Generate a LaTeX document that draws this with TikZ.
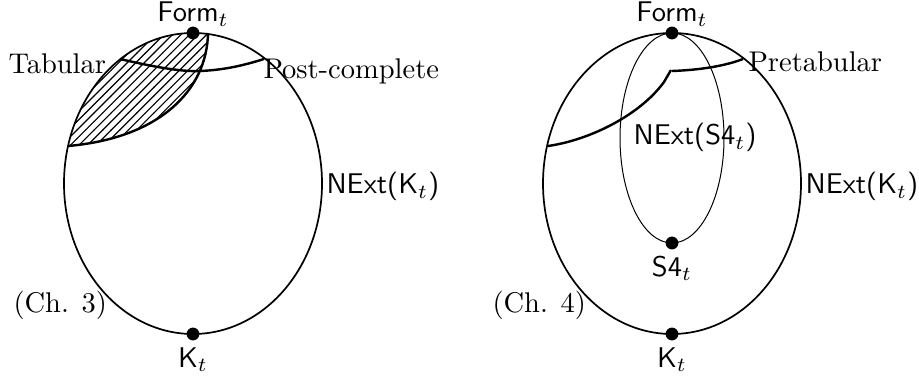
\documentclass[tikz,border=0pt]{standalone}
\usetikzlibrary{patterns}
\begin{document}
\begin{tikzpicture}[x=0.351pt,y=-0.351pt,
  outer/.style={line width=0.6pt},
  inner/.style={line width=0.35pt},
  region/.style={line width=0.85pt},
  dot/.style={circle,fill=black,inner sep=0pt,minimum size=4.5pt},
  lbl/.style={inner sep=0pt}]
\useasboundingbox (0,0) rectangle (919,378);
% ---------- left figure ----------
\begin{scope}
  \clip (193,183.5) ellipse [x radius=129, y radius=150.5];
  \fill[pattern=north east lines] (68,146) .. controls (160,138) and (207,90) .. (208,33) -- (208,0) -- (0,0) -- (0,146) -- cycle;
\end{scope}
\draw[region] (68,146) .. controls (160,138) and (207,90) .. (208,33);
\draw[outer] (193,183.5) ellipse [x radius=129, y radius=150.5];
\draw[region] (120,59) .. controls (150,66) and (180,72) .. (200,71) .. controls (225,70) and (245,65) .. (264,59);
\node[dot] (formL) at (193,33) {};
\node[dot] (kL) at (193,334) {};
\node[lbl,anchor=base] (formLl) at (193,22) {\textsf{Form}$_t$};
\node[lbl,anchor=base] (kLl) at (193,367) {\textsf{K}$_t$};
\node[lbl,anchor=base west] (tab) at (8,74) {Tabular};
\node[lbl,anchor=base west] (post) at (263,79) {Post-complete};
\node[lbl,anchor=base west] (nextL) at (326,194) {\textsf{NExt(K}$_t$\textsf{)}};
\node[lbl,anchor=base west] (ch3) at (13,312) {(Ch. 3)};
% ---------- right figure ----------
\draw[outer] (672,183.5) ellipse [x radius=129, y radius=150.5];
\draw[inner] (672,138) ellipse [x radius=52, y radius=105];
\draw[region] (548,146) .. controls (590,140) and (640,115) .. (664,82) -- (671,70);
\draw[region] (672,71) .. controls (700,70) and (725,66) .. (743,59);
\node[dot] (formR) at (672,33) {};
\node[dot] (s4) at (672,243) {};
\node[dot] (kR) at (672,334) {};
\node[lbl,anchor=base] (formRl) at (672,22) {\textsf{Form}$_t$};
\node[lbl,anchor=base] (s4l) at (672,276) {\textsf{S4}$_t$};
\node[lbl,anchor=base] (kRl) at (672,367) {\textsf{K}$_t$};
\node[lbl,anchor=base west] (pretab) at (748,72) {Pretabular};
\node[lbl,anchor=base west] (nextS) at (633,145) {\textsf{NExt(S4}$_t$\textsf{)}};
\node[lbl,anchor=base west] (nextR) at (805,194) {\textsf{NExt(K}$_t$\textsf{)}};
\node[lbl,anchor=base west] (ch4) at (492,312) {(Ch. 4)};
\end{tikzpicture}
\end{document}
